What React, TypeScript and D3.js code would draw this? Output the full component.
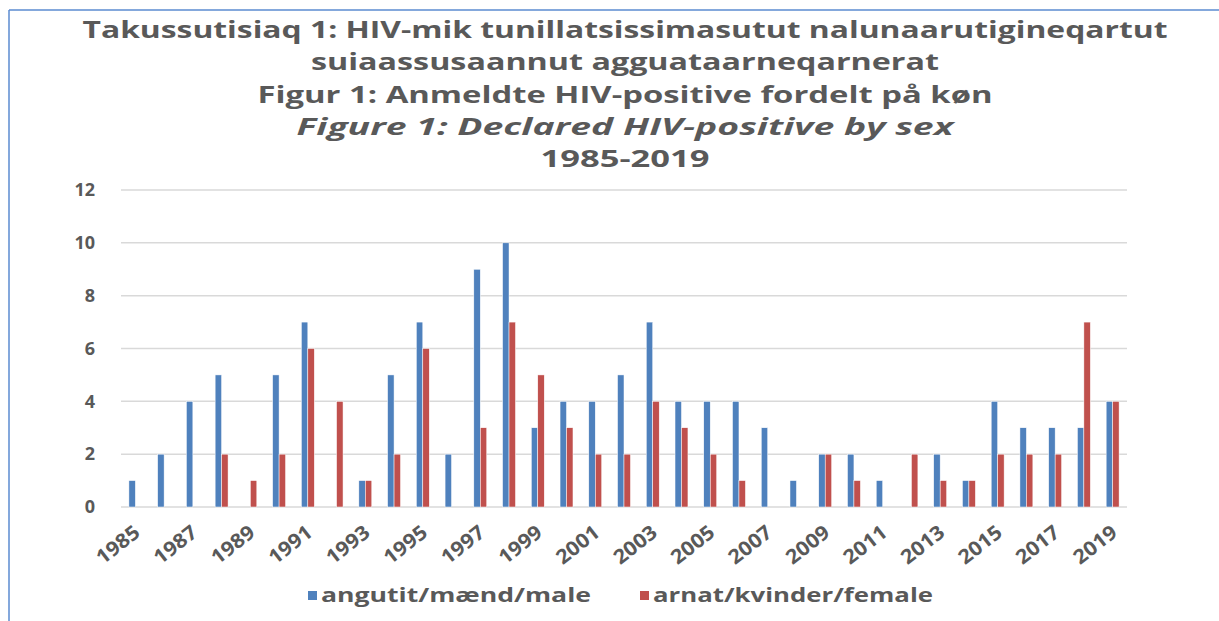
import React from "react";
import * as d3 from "d3";

const years: number[] = [
  1985, 1986, 1987, 1988, 1989, 1990, 1991, 1992, 1993, 1994, 1995, 1996, 1997, 1998, 1999, 2000, 2001, 2002,
  2003, 2004, 2005, 2006, 2007, 2008, 2009, 2010, 2011, 2012, 2013, 2014, 2015, 2016, 2017, 2018, 2019,
];
const male: number[] = [1, 2, 4, 5, 0, 5, 7, 0, 1, 5, 7, 2, 9, 10, 3, 4, 4, 5, 7, 4, 4, 4, 3, 1, 2, 2, 1, 0, 2, 1, 4, 3, 3, 3, 4];
const female: number[] = [0, 0, 0, 2, 1, 2, 6, 4, 1, 2, 6, 0, 3, 7, 5, 3, 2, 2, 4, 3, 2, 1, 0, 0, 2, 1, 0, 2, 1, 1, 2, 2, 2, 7, 4];
const seriesNames: string[] = ["angutit/mænd/male", "arnat/kvinder/female"];
const seriesColors: string[] = ["#4F81BD", "#C0504D"];
const yTicks: number[] = [0, 2, 4, 6, 8, 10, 12];
const titleLines: string[] = [
  "Takussutisiaq 1: HIV-mik tunillatsissimasutut nalunaarutigineqartut",
  "suiaassusaannut agguataarneqarnerat",
  "Figur 1: Anmeldte HIV-positive fordelt på køn",
  "Figure 1: Declared HIV-positive by sex",
  "1985-2019",
];

const W = 1219;
const H = 621;
const plot = { left: 121, right: 1127, top: 190, bottom: 507 };
const titleY = [38, 70, 103, 135, 167];
const titleLen = [1085, 628, 735, 657, 169];
const textColor = "#595959";
const font = "'Open Sans', 'DejaVu Sans', sans-serif";

export default function App() {
  const x = d3
    .scaleBand<number>()
    .domain(years)
    .range([plot.left, plot.right])
    .paddingInner(0.55)
    .paddingOuter(0.275);
  const x1 = d3.scaleBand<number>().domain([0, 1]).range([0, x.bandwidth()]);
  const y = d3.scaleLinear().domain([0, 12]).range([plot.bottom, plot.top]);
  const series = [male, female];

  return (
    <svg
      width={W}
      height={H}
      style={{ position: "absolute", left: 0, top: 0, background: "#fff" }}
      fontFamily={font}
    >
      <rect x={0} y={0} width={W} height={H} fill="#fff" />
      <line x1={9} y1={10} x2={W} y2={10} stroke="#5B8BD0" strokeWidth={1.5} />
      <line x1={9} y1={10} x2={9} y2={H} stroke="#5B8BD0" strokeWidth={1.5} />

      {titleLines.map((t, i) => (
        <text
          key={i}
          x={625}
          y={titleY[i]}
          textAnchor="middle"
          fontSize={24}
          fontWeight="bold"
          fontStyle={i === 3 ? "italic" : "normal"}
          fill={textColor}
          textLength={titleLen[i]}
          lengthAdjust="spacingAndGlyphs"
        >
          {t}
        </text>
      ))}

      {yTicks.map((t) => (
        <g key={t}>
          <line x1={plot.left} x2={plot.right} y1={y(t)} y2={y(t)} stroke="#D9D9D9" strokeWidth={1.5} />
          <text
            x={95}
            y={y(t)}
            dy="0.35em"
            textAnchor="end"
            fontSize={18}
            fontWeight="bold"
            fill={textColor}
          >
            {t}
          </text>
        </g>
      ))}

      {years.map((yr, i) => (
        <g key={yr} transform={`translate(${x(yr)},0)`}>
          {series.map((s, k) =>
            s[i] > 0 ? (
              <rect
                key={k}
                x={x1(k)}
                y={y(s[i])}
                width={x1.bandwidth()}
                height={y(0) - y(s[i])}
                fill={seriesColors[k]}
                stroke="#fff"
                strokeWidth={0.5}
              />
            ) : null
          )}
        </g>
      ))}

      {years
        .filter((_, i) => i % 2 === 0)
        .map((yr) => {
          const cx = (x(yr) as number) + x.bandwidth() / 2;
          return (
            <text
              key={yr}
              transform={`translate(${cx + 6},${535}) rotate(-38)`}
              textAnchor="end"
              fontSize={20}
              fontWeight="bold"
              fill={textColor}
              textLength={49}
              lengthAdjust="spacingAndGlyphs"
            >
              {yr}
            </text>
          );
        })}

      {seriesNames.map((n, k) => {
        const lx = k === 0 ? 308 : 640;
        const len = k === 0 ? 270 : 280;
        return (
          <g key={n}>
            <rect x={lx} y={591} width={9} height={9} fill={seriesColors[k]} />
            <text
              x={lx + 13}
              y={602}
              fontSize={19}
              fontWeight="bold"
              fill={textColor}
              textLength={len}
              lengthAdjust="spacingAndGlyphs"
            >
              {n}
            </text>
          </g>
        );
      })}
    </svg>
  );
}
